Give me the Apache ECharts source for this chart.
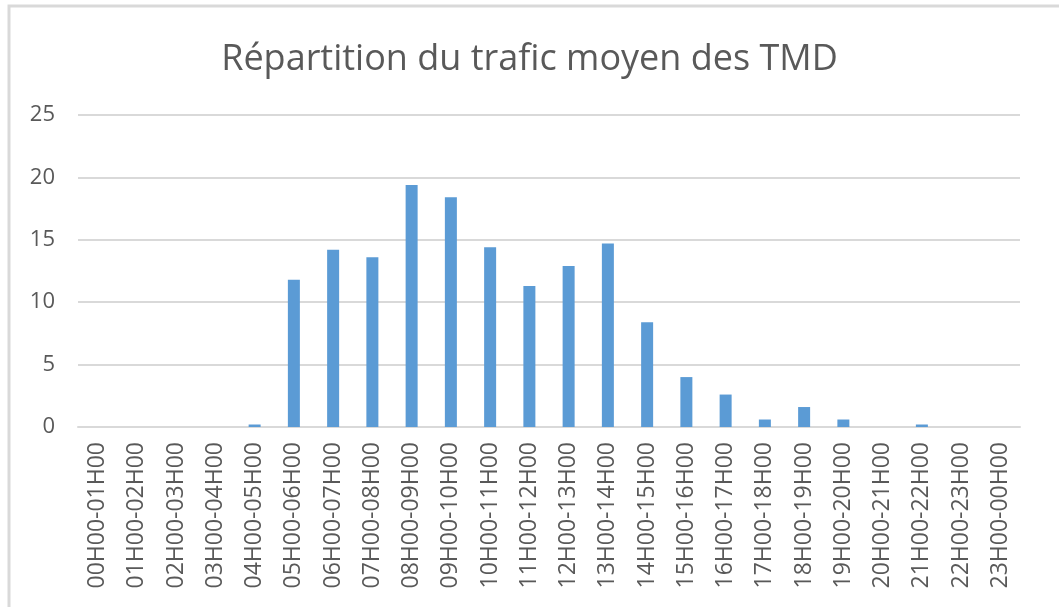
<!DOCTYPE html>
<html>
<head>
<meta charset="utf-8">
<script src="https://cdn.jsdelivr.net/npm/echarts@6/dist/echarts.min.js"></script>
<style>
  html, body { margin: 0; padding: 0; background: #fff; }
  #chart { width: 1059px; height: 607px; }
</style>
</head>
<body>
<div id="chart"></div>
<script>
var chartTitle = 'Répartition du trafic moyen des TMD';

var hours = [
  '00H00-01H00', '01H00-02H00', '02H00-03H00', '03H00-04H00',
  '04H00-05H00', '05H00-06H00', '06H00-07H00', '07H00-08H00',
  '08H00-09H00', '09H00-10H00', '10H00-11H00', '11H00-12H00',
  '12H00-13H00', '13H00-14H00', '14H00-15H00', '15H00-16H00',
  '16H00-17H00', '17H00-18H00', '18H00-19H00', '19H00-20H00',
  '20H00-21H00', '21H00-22H00', '22H00-23H00', '23H00-00H00'
];

var trafic = [
  0, 0, 0, 0, 0.2, 11.8, 14.2, 13.6, 19.4, 18.4, 14.4, 11.3,
  12.9, 14.7, 8.4, 4.0, 2.6, 0.6, 1.6, 0.6, 0, 0.2, 0, 0
];

var chart = echarts.init(document.getElementById('chart'));

var option = {
  animation: false,
  title: {
    text: chartTitle,
    left: 'center',
    top: 37,
    textStyle: {
      fontFamily: 'Open Sans',
      fontSize: 36,
      fontWeight: 'normal',
      color: '#595959'
    }
  },
  graphic: [
    {
      type: 'rect',
      shape: { x: 9, y: 6, width: 1100, height: 700 },
      style: { fill: 'none', stroke: '#d9d9d9', lineWidth: 3 },
      silent: true
    }
  ],
  grid: {
    left: 78,
    right: 39,
    top: 115,
    bottom: 180
  },
  xAxis: {
    type: 'category',
    data: hours,
    axisLine: { lineStyle: { color: '#d9d9d9', width: 2 } },
    axisTick: { show: false },
    axisLabel: {
      rotate: 90,
      interval: 0,
      margin: 15,
      fontFamily: 'Open Sans',
      fontSize: 23,
      color: '#595959'
    }
  },
  yAxis: {
    type: 'value',
    min: 0,
    max: 25,
    interval: 5,
    axisLine: { show: false },
    axisTick: { show: false },
    splitLine: { lineStyle: { color: '#d9d9d9', width: 2 } },
    axisLabel: {
      margin: 23,
      fontFamily: 'Open Sans',
      fontSize: 22,
      color: '#595959'
    }
  },
  series: [
    {
      type: 'bar',
      data: trafic,
      barWidth: 12,
      itemStyle: { color: '#5b9bd5' }
    }
  ]
};

chart.setOption(option);
</script>
</body>
</html>
